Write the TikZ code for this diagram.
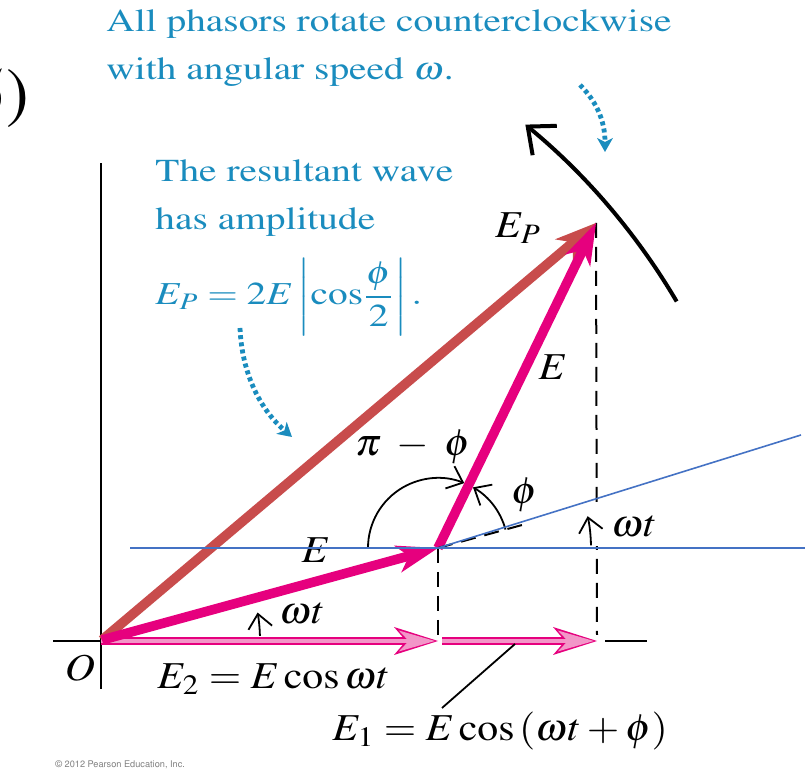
\documentclass[tikz,border=0pt]{standalone}
\usepackage[T1]{fontenc}
\usepackage{mathptmx}
\usetikzlibrary{arrows.meta,calc}
\definecolor{phasorpink}{RGB}{230,0,126}
\definecolor{resred}{RGB}{200,76,76}
\definecolor{lightpink}{RGB}{242,150,200}
\definecolor{notecyan}{RGB}{26,140,190}
\definecolor{guideblue}{RGB}{68,114,196}
\begin{document}
\begin{tikzpicture}[x=0.5pt,y=0.5pt,
    phasor/.style={line width=4.8pt,-{Stealth[length=21pt,width=14pt,inset=6pt,line width=0pt]}},
    hollowout/.style={phasorpink,line width=4pt,-{Stealth[length=22pt,width=14pt,inset=6pt,line width=0pt]}},
    hollowin/.style={lightpink,line width=2pt,shorten >=1.6pt,-{Stealth[length=18pt,width=10.5pt,inset=5pt,line width=0pt]}},
    lbl/.style={font=\fontsize{19}{22}\selectfont,inner sep=0pt,transform shape,xscale=1.1},
    note/.style={font=\fontsize{16}{24}\selectfont,text=notecyan,inner sep=0pt,align=left,transform shape,xscale=1.23},
    angarrow/.style={line width=0.9pt,-{Straight Barb[length=7pt,width=12pt]}},
    dotarrow/.style={notecyan,line width=2.4pt,dash pattern=on 2pt off 1.6pt,-{Stealth[length=7pt,width=8pt,inset=2pt,line width=0pt]}},
    guide/.style={guideblue,line width=0.8pt},
    drop/.style={line width=1pt,dash pattern=on 7.5pt off 4.5pt}]
  \useasboundingbox (0,0) rectangle (805,771);
  \coordinate (O) at (102,131);
  \coordinate (A) at (438,223);
  \coordinate (P) at (596,548);
  \coordinate (ytop) at (101,608);
  \coordinate (ybot) at (101,82);
  \coordinate (xleft) at (53,130);
  \coordinate (xorig) at (101,130);
  \coordinate (xright) at (647,130);
  \coordinate (xgap) at (605,130);
  \coordinate (Afoot) at (438,130);
  \coordinate (Pfoot) at (597,130);
  \coordinate (Bstart) at (442,130);
  \draw[line width=1pt] (ybot) -- (ytop);
  \draw[line width=1pt] (xleft) -- (xorig);
  \draw[line width=1pt] (xgap) -- (xright);
  \draw[drop] (A) -- ($(Afoot)+(0,6)$);
  \draw[drop] (P) -- ($(Pfoot)+(0,6)$);
  \fill[white] (578,225) rectangle (658,262);
  \draw[hollowout] (xorig) -- (Afoot);
  \draw[hollowin] (xorig) -- (Afoot);
  \draw[hollowout] (Bstart) -- (Pfoot);
  \draw[hollowin] (Bstart) -- (Pfoot);
  \draw[phasor,resred] (O) -- (P);
  \draw[phasor,phasorpink] (O) -- (A);
  \draw[phasor,phasorpink] (A) -- (P);
  \draw[drop] (A) -- ++(15.3:95);
  \draw[angarrow] ($(A)+(15.3:70)$) arc[start angle=15.3,end angle=60,radius=70];
  \draw[angarrow] ($(A)+(180:70)$) arc[start angle=180,end angle=68,radius=70];
  \draw[angarrow] ($(O)+(1.5:158)$) arc[start angle=1.5,end angle=10,radius=158];
  \draw[angarrow] ($(A)+(1:153)$) arc[start angle=1,end angle=12,radius=153];
  \draw[line width=2pt,-{Straight Barb[length=11pt,width=19pt]}] ($(O)+(30.5:667)$) arc[start angle=30.5,end angle=50.6,radius=667];
  \node[lbl] (Olbl) at (80,103) {$O$};
  \node[lbl] (EA) at (316,221) {$E$};
  \node[lbl] (EB) at (553,404) {$E$};
  \node[lbl] (EP) at (518,543) {$E_P$};
  \node[lbl] (wtO) at (302,157) {$\omega t$};
  \node[lbl] (wtA) at (634,244) {$\omega t$};
  \node[lbl] (pmphi) at (413,324) {$\pi \;-\; \phi$};
  \node[lbl] (phi) at (525,276) {$\phi$};
  \node[lbl,anchor=base west] (E2lbl) at (157,82) {$E_2 = E\cos\omega t$};
  \node[lbl,anchor=base west] (E1lbl) at (332,30) {$E_1 = E\cos\,(\omega t + \phi)$};
  \coordinate (tag) at (515,127);
  \coordinate (tagend) at (442,63);
  \draw[line width=0.9pt] (tag) -- (tagend);
  \node[note,anchor=north west] (rot) at (106,762) {All phasors rotate counterclockwise\\with angular speed $\omega$.};
  \node[note,anchor=north west] (res) at (155,612) {The resultant wave\\has amplitude};
  \node[note,anchor=base west] (amp) at (155,466) {$\displaystyle E_P = 2E\left|\cos\!\frac{\phi}{2}\right|.$};
  \coordinate (d1s) at (580,686);
  \coordinate (d1e) at (605,619);
  \draw[dotarrow] (d1s) .. controls (598,668) and (605,648) .. (d1e);
  \coordinate (d2s) at (240,443);
  \coordinate (d2e) at (292,334);
  \draw[dotarrow] (d2s) .. controls (242,395) and (262,360) .. (d2e);
  \node[font=\fontsize{34}{36}\selectfont,anchor=east,inner sep=0pt] (eqno) at (30,672) {(5)};
  \node[font=\fontsize{4.6}{6}\fontfamily{phv}\selectfont,text=gray,anchor=west,inner sep=0pt] (copy) at (55,6) {\textcopyright{} 2012 Pearson Education, Inc.};
  \coordinate (gl) at (130,223);
  \coordinate (gr) at (805,223);
  \coordinate (sl) at (801,336);
  \draw[guide] (gl) -- (gr);
  \draw[guide] (A) -- (sl);
\end{tikzpicture}
\end{document}
